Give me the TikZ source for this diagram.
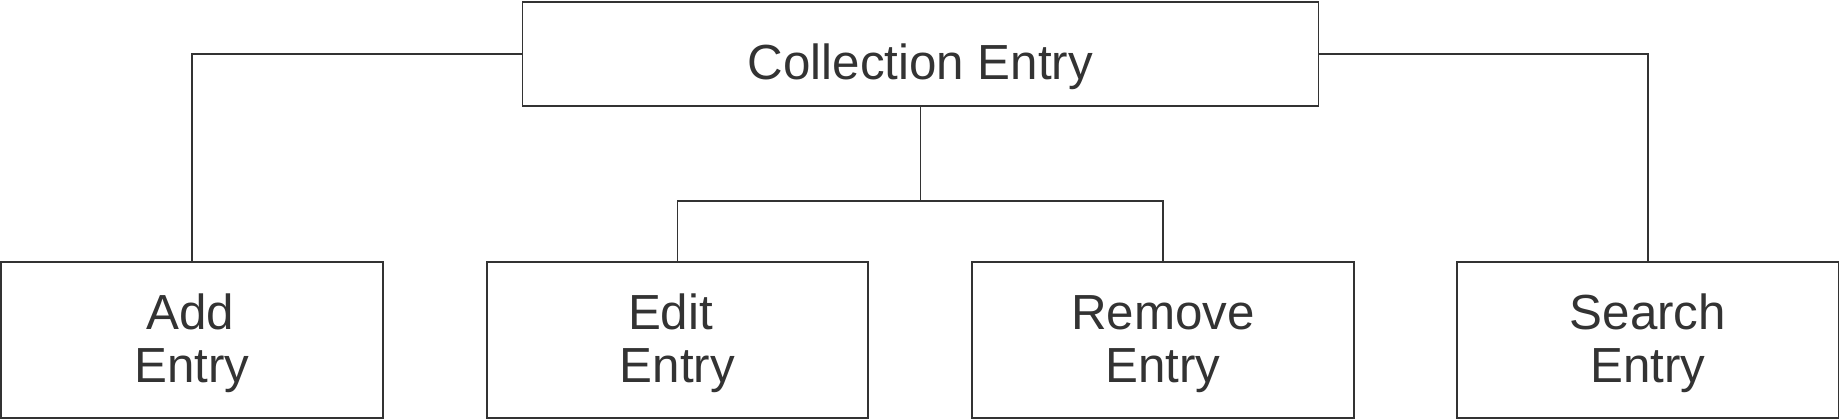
\documentclass[tikz,border=0pt]{standalone}
\usepackage{fontspec}
\setmainfont{Liberation Sans}
\definecolor{ink}{HTML}{333333}
\begin{document}
\begin{tikzpicture}[x=1pt,y=1pt,
  box/.style={draw=ink, line width=1.8pt, minimum width=381.5pt, minimum height=156.2pt, inner sep=0pt, outer sep=0pt},
  topbox/.style={draw=ink, line width=1.8pt, minimum width=796pt, minimum height=103.4pt, inner sep=0pt, outer sep=0pt},
  lbl/.style={anchor=base, text=ink, inner sep=0pt, font=\fontsize{49.3}{53}\selectfont},
  conn/.style={draw=ink, line width=1.7pt}]
\useasboundingbox (0,0) rectangle (1841,420);
\node[topbox] (coll) at (920.5,366) {};
\node[box] (add) at (192,80.1) {};
\node[box] (edit) at (677.5,80.1) {};
\node[box] (rem) at (1163,80.1) {};
\node[box] (srch) at (1647.8,80.1) {};
\node[lbl] (collt) at (920.5,340) {Collection Entry};
\node[lbl] (addA) at (190,90) {Add};
\node[lbl] (addB) at (192,37.3) {Entry};
\node[lbl] (editA) at (670.5,90) {Edit};
\node[lbl] (editB) at (677.5,37.3) {Entry};
\node[lbl] (remA) at (1163,90) {Remove};
\node[lbl] (remB) at (1163,37.3) {Entry};
\node[lbl] (srchA) at (1647.8,90) {Search};
\node[lbl] (srchB) at (1647.8,37.3) {Entry};
\coordinate (mid) at (920.5,219.2);
\draw[conn] (coll.west) -| (add.north);
\draw[conn] (coll.east) -| (srch.north);
\draw[conn] (coll.south) -- (mid);
\draw[conn] (mid) -| (edit.north);
\draw[conn] (mid) -| (rem.north);
\end{tikzpicture}
\end{document}
